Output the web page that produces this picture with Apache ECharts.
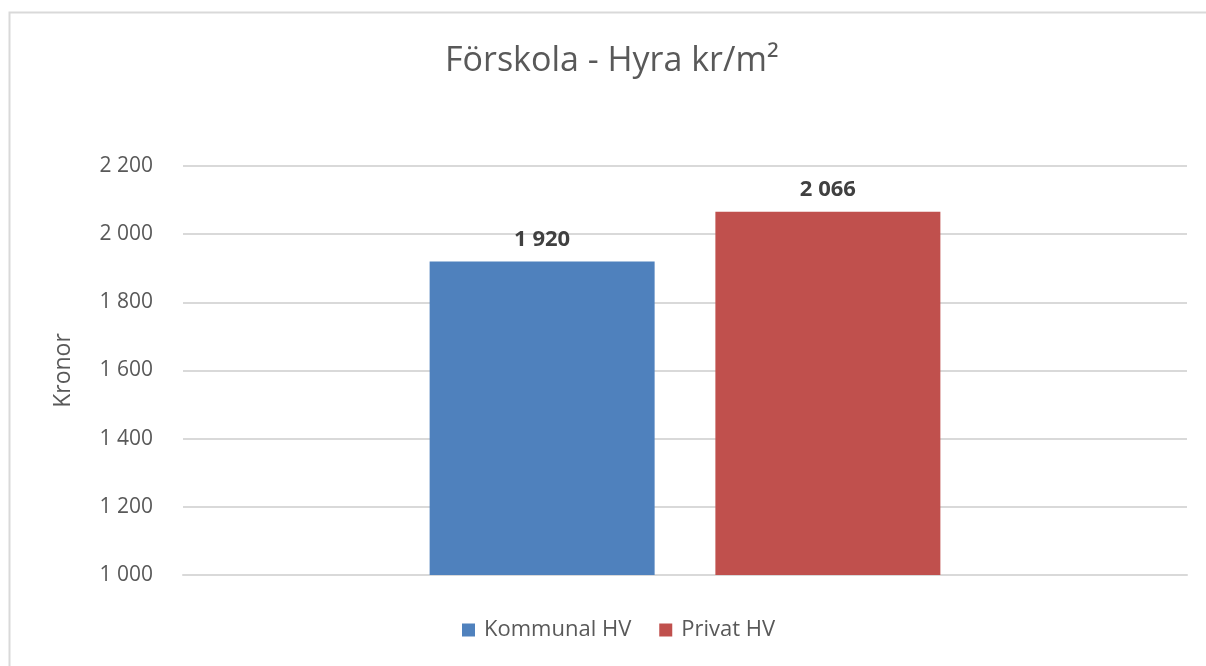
<!DOCTYPE html>
<html>
<head>
<meta charset="utf-8">
<script src="https://cdn.jsdelivr.net/npm/echarts@6/dist/echarts.min.js"></script>
<style>
  html, body { margin: 0; padding: 0; background: #fff; }
  #chart { width: 1206px; height: 666px; }
</style>
</head>
<body>
<div id="chart"></div>
<script>
// data
var categories = ["Förskola"];
var seriesNames = ["Kommunal HV", "Privat HV"];
var kommunal = [1920];
var privat = [2066];
var colors = ["#4F81BD", "#C0504D"];

function fmt(v) {
  return String(v).replace(/\B(?=(\d{3})+(?!\d))/g, " ");
}

var textColor = "#595959";
var font = "'Open Sans', sans-serif";

var chart = echarts.init(document.getElementById("chart"));
chart.setOption({
  animation: false,
  textStyle: { fontFamily: font },
  graphic: [{
    type: "rect",
    shape: { x: 9.5, y: 12.5, width: 1200, height: 700 },
    style: { fill: "none", stroke: "#d9d9d9", lineWidth: 2 },
    silent: true
  }],
  title: {
    text: "Förskola - Hyra kr/m²",
    left: 440,
    top: 39,
    textStyle: { fontSize: 34, fontWeight: "normal", color: textColor, fontFamily: font }
  },
  legend: {
    bottom: 20,
    left: 457,
    itemWidth: 13,
    itemHeight: 13,
    itemGap: 28,
    icon: "rect",
    textStyle: { fontSize: 22, color: textColor, fontFamily: font, padding: [0, 0, 0, 4] },
    data: seriesNames
  },
  grid: { left: 183, right: 19, top: 166, bottom: 91 },
  xAxis: {
    type: "category",
    data: categories,
    axisLabel: { show: false },
    axisTick: { show: false },
    axisLine: { lineStyle: { color: "#d9d9d9", width: 2 } }
  },
  yAxis: {
    type: "value",
    min: 1000,
    max: 2200,
    interval: 200,
    name: "Kronor",
    nameLocation: "middle",
    nameGap: 108,
    nameRotate: 90,
    nameTextStyle: { fontSize: 23, color: textColor, fontFamily: font },
    axisLabel: {
      fontSize: 21,
      color: textColor,
      margin: 30,
      formatter: fmt
    },
    splitLine: { lineStyle: { color: "#d9d9d9", width: 2 } }
  },
  series: [
    {
      name: seriesNames[0],
      type: "bar",
      data: kommunal,
      barWidth: 225,
      barGap: "27%",
      itemStyle: { color: colors[0] },
      label: {
        show: true, position: "top", distance: 11,
        fontSize: 22, fontWeight: "bold", color: "#404040",
        formatter: function (p) { return fmt(p.value); }
      }
    },
    {
      name: seriesNames[1],
      type: "bar",
      data: privat,
      barWidth: 225,
      itemStyle: { color: colors[1] },
      label: {
        show: true, position: "top", distance: 11,
        fontSize: 22, fontWeight: "bold", color: "#404040",
        formatter: function (p) { return fmt(p.value); }
      }
    }
  ]
});
</script>
</body>
</html>
